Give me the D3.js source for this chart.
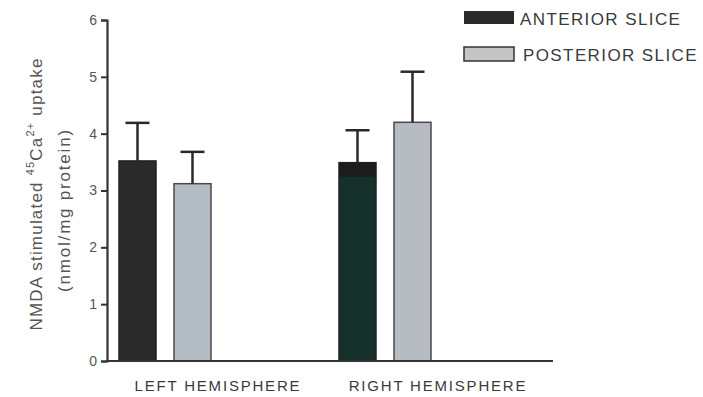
<!DOCTYPE html>
<html>
<head>
<meta charset="utf-8">
<script src="https://cdn.jsdelivr.net/npm/d3@7"></script>
<style>
  html, body { margin: 0; padding: 0; background: #fff; }
  svg { display: block; }
  text { font-family: "Liberation Sans", Arial, sans-serif; }
</style>
</head>
<body>
<svg id="chart" width="703" height="397"></svg>
<script>
// Hemisphere groups and slice series
const groups = ["LEFT HEMISPHERE", "RIGHT HEMISPHERE"];
const series = ["ANTERIOR SLICE", "POSTERIOR SLICE"];
// Mean uptake (nmol/mg protein), one value per group
const anteriorMeans = [3.52, 3.49];
const posteriorMeans = [3.12, 4.20];
// Upper end of the error bars (mean + SEM)
const anteriorUpper = [4.19, 4.06];
const posteriorUpper = [3.68, 5.09];
const yTicks = [0, 1, 2, 3, 4, 5, 6];

const svg = d3.select("#chart");
const axisColor = "#333";

const y = d3.scaleLinear().domain([0, 6]).range([361, 20]);
const x0 = d3.scaleBand().domain(groups).range([119, 559]).padding(0);
const x1 = d3.scaleBand().domain(series).range([0, 92]).paddingInner(0.327).paddingOuter(0);

const fills = {
  "ANTERIOR SLICE": ["#2a2a2a", "#16302b"],
  "POSTERIOR SLICE": ["#b3bcc2", "#b6bcc1"]
};
const strokes = { "ANTERIOR SLICE": "#222", "POSTERIOR SLICE": "#4a4a4a" };

const rows = [];
groups.forEach((g, i) => {
  rows.push({ g, s: series[0], v: anteriorMeans[i], hi: anteriorUpper[i], i });
  rows.push({ g, s: series[1], v: posteriorMeans[i], hi: posteriorUpper[i], i });
});

// Bars
svg.append("g").selectAll("rect").data(rows).join("rect")
  .attr("x", d => x0(d.g) + x1(d.s))
  .attr("y", d => y(d.v))
  .attr("width", x1.bandwidth())
  .attr("height", d => y(0) - y(d.v))
  .attr("fill", d => fills[d.s][d.i])
  .attr("stroke", d => strokes[d.s])
  .attr("stroke-width", 1.5);

// Darker cap on the right anterior bar
svg.append("g").selectAll("rect").data(rows.filter(d => d.s === series[0] && d.i === 1)).join("rect")
  .attr("x", d => x0(d.g) + x1(d.s))
  .attr("y", d => y(d.v))
  .attr("width", x1.bandwidth())
  .attr("height", 14)
  .attr("fill", "#1c1c1c");

// Error bars (upper whisker only)
const eb = svg.append("g").attr("stroke", "#2a2a2a").attr("stroke-width", 2.5);
eb.selectAll("line.v").data(rows).join("line").attr("class", "v")
  .attr("x1", d => x0(d.g) + x1(d.s) + x1.bandwidth() / 2)
  .attr("x2", d => x0(d.g) + x1(d.s) + x1.bandwidth() / 2)
  .attr("y1", d => y(d.v))
  .attr("y2", d => y(d.hi));
eb.selectAll("line.c").data(rows).join("line").attr("class", "c")
  .attr("x1", d => x0(d.g) + x1(d.s) + x1.bandwidth() / 2 - 12)
  .attr("x2", d => x0(d.g) + x1(d.s) + x1.bandwidth() / 2 + 12)
  .attr("y1", d => y(d.hi))
  .attr("y2", d => y(d.hi));

// Y axis
const yAxis = svg.append("g").attr("transform", "translate(107,0)")
  .call(d3.axisLeft(y).tickValues(yTicks).tickFormat(d3.format("d")).tickSize(6).tickPadding(4));
yAxis.select(".domain").attr("stroke", axisColor).attr("stroke-width", 2.2);
yAxis.selectAll(".tick line").attr("stroke", axisColor).attr("stroke-width", 2);
yAxis.selectAll(".tick text").attr("fill", "#555").attr("font-size", 14);

// X axis baseline
svg.append("line")
  .attr("x1", 106).attr("x2", 553)
  .attr("y1", y(0)).attr("y2", y(0))
  .attr("stroke", axisColor).attr("stroke-width", 2.2);

// Group labels
svg.append("g").selectAll("text").data(groups).join("text")
  .attr("x", d => x0(d) + 99)
  .attr("y", 391)
  .attr("text-anchor", "middle")
  .attr("font-size", 15)
  .attr("letter-spacing", 1.8)
  .attr("fill", "#3a3a3a")
  .text(d => d);

// Y axis title
const yt1 = svg.append("text")
  .attr("transform", "translate(42,194) rotate(-90)")
  .attr("text-anchor", "middle")
  .attr("font-size", 17)
  .attr("letter-spacing", 1.2)
  .attr("fill", "#555");
yt1.append("tspan").text("NMDA stimulated ");
yt1.append("tspan").attr("font-size", 11).attr("dy", -8).text("45");
yt1.append("tspan").attr("dy", 8).text("Ca");
yt1.append("tspan").attr("font-size", 11).attr("dy", -8).text("2+");
yt1.append("tspan").attr("dy", 8).text("  uptake");

svg.append("text")
  .attr("transform", "translate(70,210) rotate(-90)")
  .attr("text-anchor", "middle")
  .attr("font-size", 17)
  .attr("letter-spacing", 1.8)
  .attr("fill", "#555")
  .text("(nmol/mg protein)");

// Legend
const legend = svg.append("g").selectAll("g").data(series).join("g")
  .attr("transform", (d, i) => `translate(464,${11 + i * 36})`);
legend.append("rect")
  .attr("width", 50).attr("height", d => d === series[0] ? 13 : 14)
  .attr("fill", (d, i) => i === 0 ? "#2a2a2a" : "#c4c4c4")
  .attr("stroke", (d, i) => i === 0 ? "none" : "#333")
  .attr("stroke-width", 1.5);
legend.append("text")
  .attr("x", (d, i) => i === 0 ? 56 : 59)
  .attr("y", 14)
  .attr("font-size", 17)
  .attr("letter-spacing", 1.4)
  .attr("fill", "#3a3a3a")
  .text(d => d);
</script>
</body>
</html>
